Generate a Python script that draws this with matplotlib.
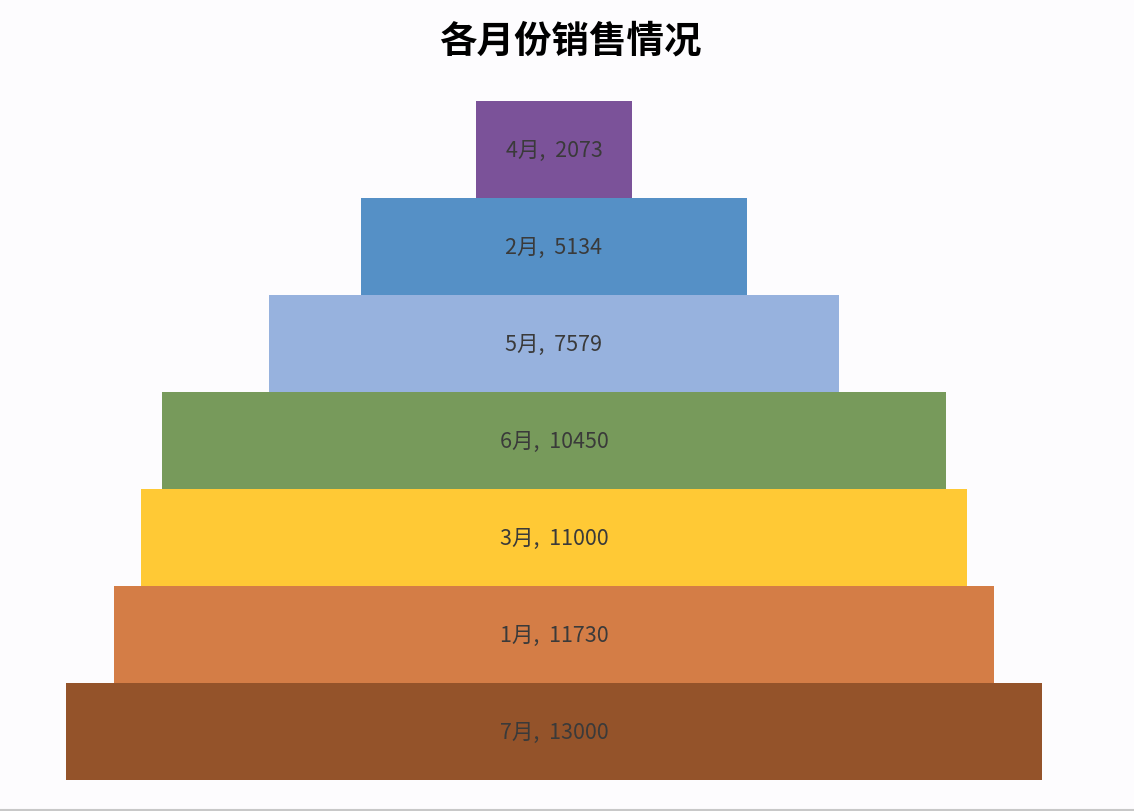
import matplotlib.pyplot as plt
from matplotlib.lines import Line2D

plt.rcParams['font.family'] = ['Noto Sans CJK SC', 'DejaVu Sans']

# data, bottom to top
months = ['7月', '1月', '3月', '6月', '5月', '2月', '4月']
sales = [13000, 11730, 11000, 10450, 7579, 5134, 2073]
colors = ['#94532A', '#D47D46', '#FFC935', '#779A5B', '#97B2DE', '#5590C6', '#7B5299']

fig = plt.figure(figsize=(11.34, 8.12), dpi=100, facecolor='#FDFCFE')
ax = fig.add_axes([66 / 1134, 31 / 812, 976 / 1134, 679 / 812])
ax.set_facecolor('#FDFCFE')

ypos = list(range(len(months)))
lefts = [-v / 2 for v in sales]
ax.barh(ypos, sales, left=lefts, height=1.0, color=colors, edgecolor='none')

for y, m, v in zip(ypos, months, sales):
    ax.text(0, y, f'{m},  {v}', ha='center', va='center',
            fontsize=15.5, color='#3A3A3A')

ax.set_xlim(-max(sales) / 2, max(sales) / 2)
ax.set_ylim(-0.5, len(months) - 0.5)
ax.axis('off')

fig.text(570 / 1134, 1 - 41 / 812, '各月份销售情况', ha='center', va='center',
         fontsize=27, fontweight='bold', color='black')

# thin grey border line at the bottom edge
fig.add_artist(Line2D([0, 1], [1.5 / 812, 1.5 / 812], color='#C8C8C8', lw=1.5))

fig.savefig('out.png', dpi=100, facecolor=fig.get_facecolor())
